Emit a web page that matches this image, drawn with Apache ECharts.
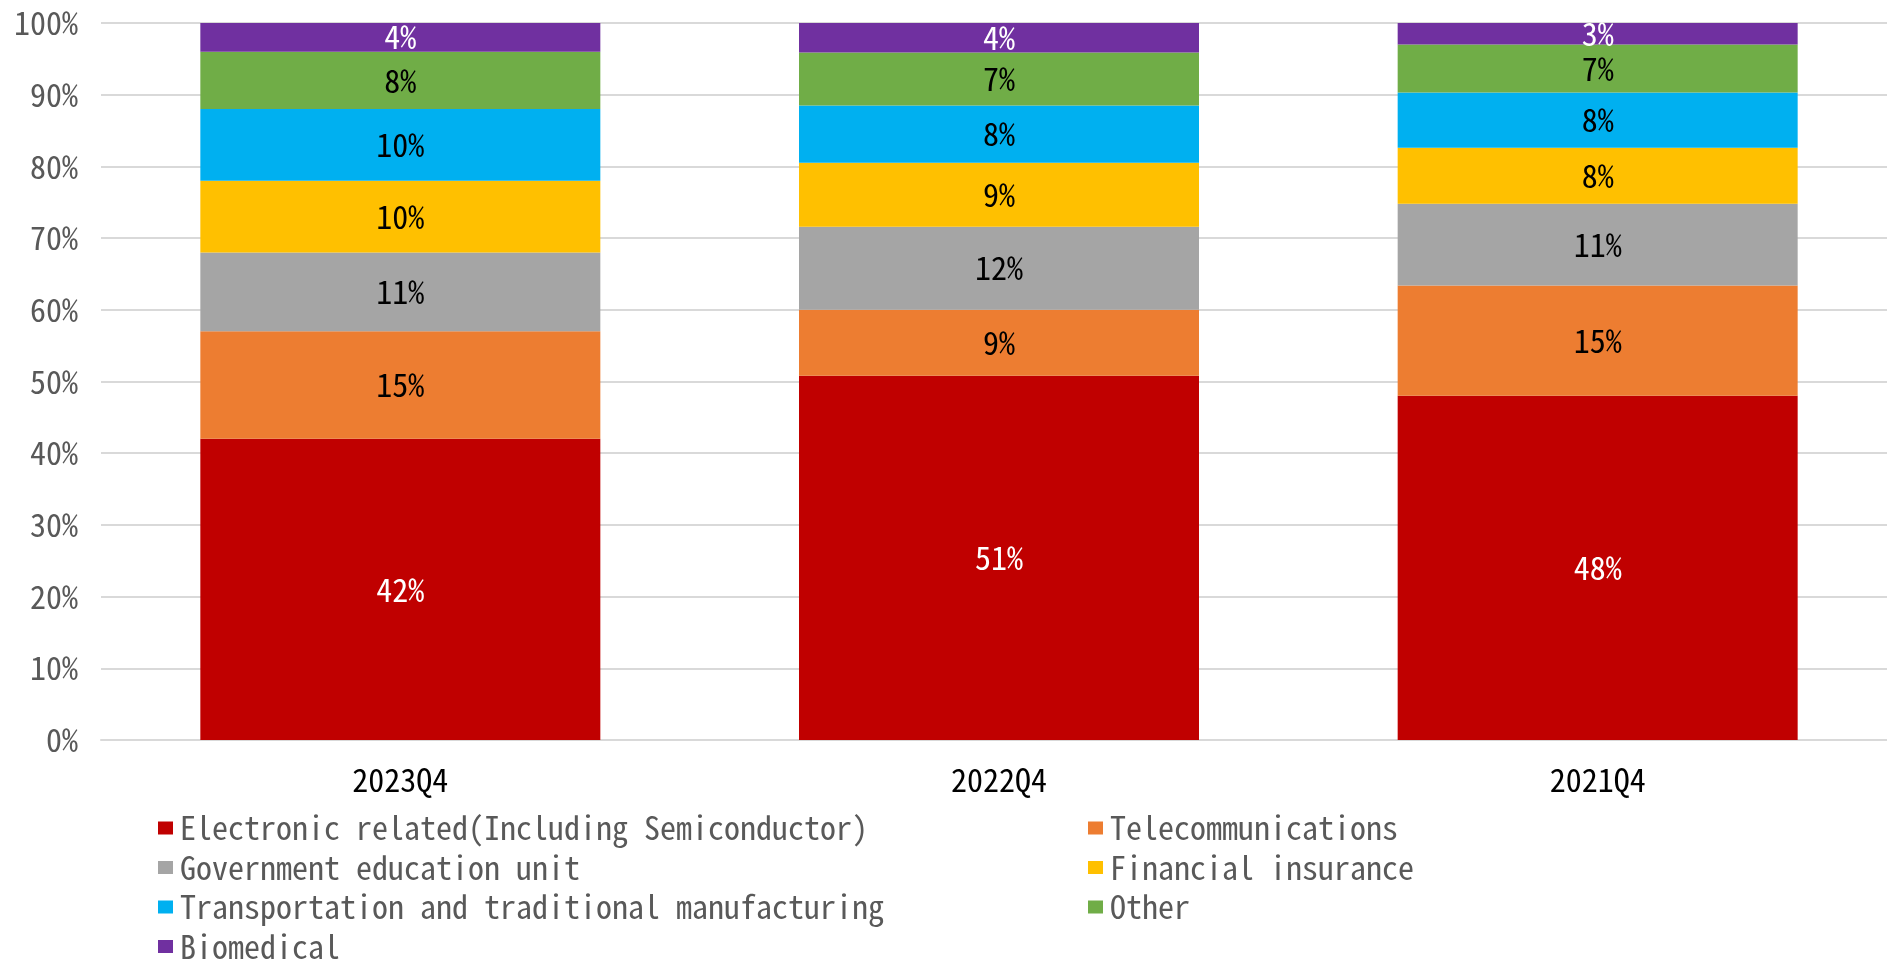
<!DOCTYPE html>
<html>
<head>
<meta charset="utf-8">
<script src="https://cdn.jsdelivr.net/npm/echarts@6/dist/echarts.min.js"></script>
<style>
html,body{margin:0;padding:0;background:#fff;}
#chart{width:1887px;height:963px;}
</style>
</head>
<body>
<div id="chart"></div>
<script>
const categories = ['2023Q4', '2022Q4', '2021Q4'];
const electronic = [42.0, 50.8, 48.0];
const telecom = [15.0, 9.2, 15.4];
const government = [11.0, 11.6, 11.4];
const financial = [10.0, 8.9, 7.8];
const transport = [10.0, 8.0, 7.7];
const other = [8.0, 7.4, 6.7];
const biomedical = [4.0, 4.1, 3.0];
const yTicks = [0, 10, 20, 30, 40, 50, 60, 70, 80, 90, 100];

const FONT = '"Noto Sans Mono CJK TC", "Noto Sans Mono CJK SC", "Noto Sans CJK TC", monospace';

const seriesDefs = [
  {name: 'Electronic related(Including Semiconductor)', data: electronic, color: '#C00000', label: '#ffffff'},
  {name: 'Telecommunications', data: telecom, color: '#ED7D31', label: '#000000'},
  {name: 'Government education unit', data: government, color: '#A5A5A5', label: '#000000'},
  {name: 'Financial insurance', data: financial, color: '#FFC000', label: '#000000'},
  {name: 'Transportation and traditional manufacturing', data: transport, color: '#00B0F0', label: '#000000'},
  {name: 'Other', data: other, color: '#70AD47', label: '#000000'},
  {name: 'Biomedical', data: biomedical, color: '#7030A0', label: '#ffffff'}
];

const legendCommon = {
  orient: 'vertical', top: 812, height: 200, padding: 0,
  itemWidth: 15, itemHeight: 13, itemGap: 7.5,
  icon: 'rect',
  textStyle: {fontFamily: FONT, fontSize: 32, color: '#595959', lineHeight: 30, padding: [0, 0, 0, 2]}
};

const chart = echarts.init(document.getElementById('chart'), null, {renderer: 'canvas'});
const option = {
  animation: false,
  textStyle: {fontFamily: FONT},
  grid: {left: 101, width: 1796, top: 23, bottom: 223, containLabel: false, outerBoundsMode: 'none'},
  legend: [
    Object.assign({}, legendCommon, {
      left: 158,
      data: [seriesDefs[0].name, seriesDefs[2].name, seriesDefs[4].name, seriesDefs[6].name]
    }),
    Object.assign({}, legendCommon, {
      left: 1088,
      data: [seriesDefs[1].name, seriesDefs[3].name, seriesDefs[5].name]
    })
  ],
  xAxis: {
    type: 'category',
    data: categories,
    axisLine: {lineStyle: {color: '#d9d9d9', width: 2}},
    axisTick: {show: false},
    axisLabel: {fontFamily: FONT, fontSize: 32, color: '#000000', margin: 24}
  },
  yAxis: {
    type: 'value',
    min: yTicks[0], max: yTicks[yTicks.length - 1], interval: 10,
    axisLine: {show: false},
    axisTick: {show: false},
    axisLabel: {fontFamily: FONT, fontSize: 32, color: '#595959', margin: 23, formatter: '{value}%'},
    splitLine: {lineStyle: {color: '#d9d9d9', width: 2}}
  },
  series: seriesDefs.map(s => ({
    name: s.name,
    type: 'bar',
    stack: 'total',
    barWidth: 400,
    data: s.data,
    itemStyle: {color: s.color},
    label: {
      show: true,
      position: 'inside',
      fontFamily: FONT,
      fontSize: 32,
      color: s.label,
      formatter: p => Math.round(p.value) + '%'
    }
  }))
};
chart.setOption(option);
</script>
</body>
</html>
